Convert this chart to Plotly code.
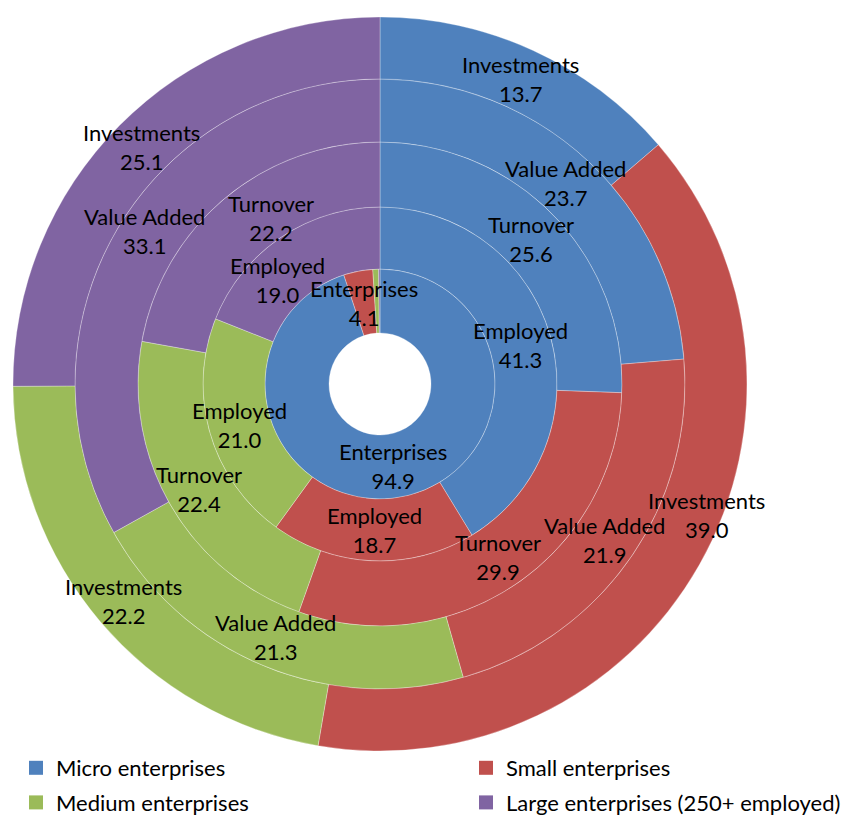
import math
import plotly.graph_objects as go

categories = ["Micro enterprises", "Small enterprises", "Medium enterprises",
              "Large enterprises (250+ employed)"]
colors = ["#4F81BD", "#C0504D", "#9BBB59", "#8064A2"]

ring_names = ["Enterprises", "Employed", "Turnover", "Value Added", "Investments"]
enterprises = [94.9, 4.1, 0.8, 0.2]
employed = [41.3, 18.7, 21.0, 19.0]
turnover = [25.6, 29.9, 22.4, 22.2]
value_added = [23.7, 21.9, 21.3, 33.1]
investments = [13.7, 39.0, 22.2, 25.1]
ring_values = [enterprises, employed, turnover, value_added, investments]
min_label_share = 1.0  # slices below this share are not labelled

# manual nudges of some labels (ring, slice) -> (dx, dy) in px, as in the original
label_nudge = {(1, 3): (-20, 17), (2, 3): (25, -5), (3, 3): (0, -15), (4, 1): (34, -35)}

# page body has an 8px margin: figure size / positions are in figure pixels
W, H = 843, 808
CX, CY = 372, 376
radii = [51, 115, 177, 242, 305, 367]
FONT = "Lato, 'Noto Sans', sans-serif"

fig = go.Figure()
annotations = []
for i, (name, vals) in enumerate(zip(ring_names, ring_values)):
    r_in, r_out = radii[i], radii[i + 1]
    fig.add_trace(go.Pie(
        labels=categories, values=vals, sort=False, direction="clockwise",
        rotation=0, hole=r_in / r_out, textinfo="none",
        marker=dict(colors=colors, line=dict(color="rgba(255,255,255,0.5)", width=0.6)),
        domain=dict(x=[(CX - r_out) / W, (CX + r_out) / W],
                    y=[(H - CY - r_out) / H, (H - CY + r_out) / H]),
        showlegend=False, hoverinfo="label+value",
    ))
    total = sum(vals)
    cum = 0.0
    rm = (r_in + r_out) / 2
    for j, v in enumerate(vals):
        mid = (cum + v / 2) / total * 2 * math.pi
        cum += v
        if v < min_label_share:
            continue
        dx, dy = label_nudge.get((i, j), (0, 0))
        px = CX + rm * math.sin(mid) + dx
        py = CY - rm * math.cos(mid) + dy
        annotations.append(dict(
            x=px / W, y=1 - py / H, xref="paper", yref="paper",
            text=f"{name}<br>{v:.1f}", showarrow=False,
            xanchor="center", yanchor="middle",
            font=dict(family=FONT, size=22, color="black"),
        ))

# legend entries (two columns)
for k, (cat, col) in enumerate(zip(categories, colors)):
    fig.add_trace(go.Scatter(
        x=[None], y=[None], mode="markers", name=cat,
        marker=dict(symbol="square", size=14, color=col, line=dict(width=0)),
        legend="legend" if k % 2 == 0 else "legend2",
        legendgroup=f"g{k}", hoverinfo="skip",
    ))

legend_common = dict(orientation="v", xanchor="left", yanchor="top",
                     traceorder="grouped", tracegroupgap=3,
                     font=dict(family=FONT, size=22, color="black"),
                     bgcolor="rgba(0,0,0,0)", borderwidth=0)

fig.update_layout(
    width=W, height=H, margin=dict(l=0, r=0, t=0, b=0, autoexpand=False),
    paper_bgcolor="white", plot_bgcolor="white",
    annotations=annotations,
    xaxis=dict(visible=False), yaxis=dict(visible=False),
    legend=dict(x=8 / W, y=1 - 739 / H, **legend_common),
    legend2=dict(x=458 / W, y=1 - 739 / H, **legend_common),
)
fig.write_html("out.html")
